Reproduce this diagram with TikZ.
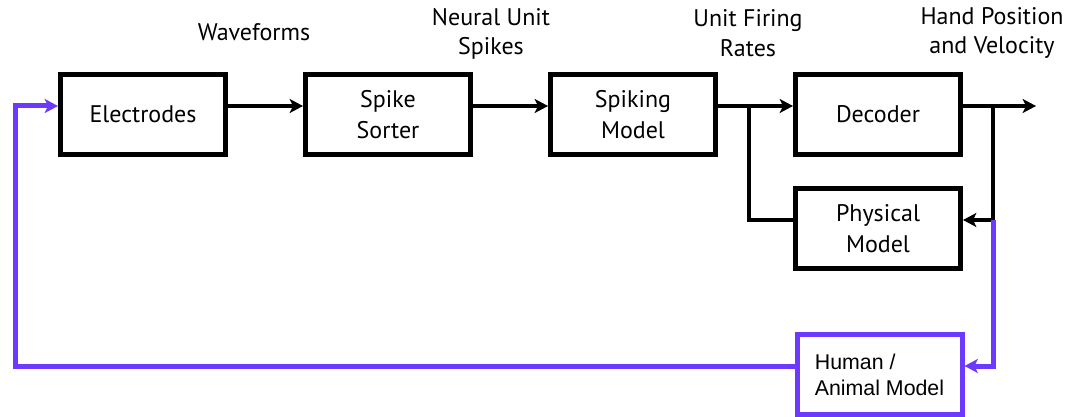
\documentclass[tikz,border=0pt]{standalone}
\usepackage{fontspec}
\setmainfont{PT Sans}
\newfontfamily\arialfont{Liberation Sans}
\usetikzlibrary{arrows.meta,calc}
\definecolor{loopviolet}{RGB}{108,58,255}
\begin{document}
\begin{tikzpicture}[x=0.75pt,y=-0.75pt,
  block/.style={draw, line width=3.75pt, minimum width=123.75pt, minimum height=60pt,
    align=center, inner sep=2pt, font=\fontsize{18}{23}\selectfont},
  sig/.style={line width=3pt, -{Stealth[length=10pt,width=10.5pt,inset=2.5pt]}},
  wire/.style={line width=3pt},
  fb/.style={line width=3.75pt, draw=loopviolet,
    -{Stealth[length=10pt,width=10.5pt,inset=2.5pt]}},
  lbl/.style={align=center, font=\fontsize{18}{22}\selectfont}
]
\useasboundingbox (0,0) rectangle (1073,417);

% processing chain
\node[block] (el)  at (143,114.5) {Electrodes};
\node[block] (ss)  at (388,114.5) {Spike\\Sorter};
\node[block] (sm)  at (633,114.5) {Spiking\\Model};
\node[block] (dec) at (878,114.5) {Decoder};
\node[block] (phy) at (878,228.5) {Physical\\Model};
\node[block, draw=loopviolet, align=left,
      font=\arialfont\fontsize{16}{19.5}\selectfont] (hum) at (879.5,374.5) {Human /\\Animal Model};

% signal labels
\node[lbl] (wf)  at (254,32) {Waveforms};
\node[lbl] (nus) at (491,34) {Neural Unit\\Spikes};
\node[lbl] (ufr) at (748,33) {Unit Firing\\Rates};
\node[lbl] (hpv) at (992,33) {Hand Position\\and Velocity};

% routing rows and junctions
\coordinate (row)    at (0,106);
\coordinate (row2)   at (0,220);
\coordinate (row3)   at (0,366);
\coordinate (splitA) at (749,106);
\coordinate (splitB) at (993,106);
\coordinate (out)    at (1036,106);
\coordinate (ret)    at (15,106);

% forward path
\draw[sig] (el.east |- row) -- (ss.west |- row);
\draw[sig] (ss.east |- row) -- (sm.west |- row);
\draw[sig] (sm.east |- row) -- (dec.west |- row);
\draw[wire] (splitA) -- (splitA |- row2) -- (phy.west |- row2);
\draw[sig] (dec.east |- row) -- (out);
\draw[sig] (splitB) -- (splitB |- row2) -- (phy.east |- row2);

% closed loop through the subject
\draw[fb] (splitB |- row2) -- (splitB |- row3) -- (hum.east |- row3);
\draw[fb] (hum.west |- row3) -- (ret |- row3) -- (ret) -- (el.west |- row);
\end{tikzpicture}
\end{document}
